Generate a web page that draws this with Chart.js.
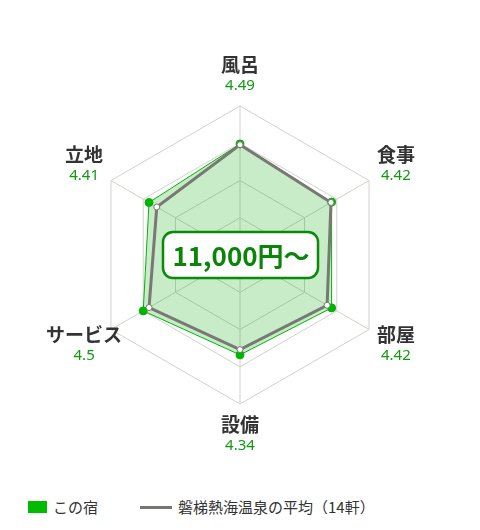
<!DOCTYPE html>
<html lang="ja">
<head>
<meta charset="utf-8">
<script src="https://cdn.jsdelivr.net/npm/chart.js@4.4.1/dist/chart.umd.min.js"></script>
<style>
  body { margin: 0; background: #fff; font-family: "Noto Sans CJK JP", sans-serif; }
  #wrap { position: relative; width: 480px; height: 530px; }
  #chartBox { position: absolute; left: 0; top: 0; width: 480px; height: 480px; }
  .lg { position: absolute; font-size: 15px; line-height: 20px; color: #333; white-space: nowrap; }
  .sw { position: absolute; }
</style>
</head>
<body>
<div id="wrap">
  <div id="chartBox"><canvas id="radar"></canvas></div>
  <div class="sw" style="left:28px;top:501px;width:19px;height:12px;background:#00bb00"></div>
  <div class="lg" style="left:53px;top:497px">この宿</div>
  <div class="sw" style="left:140px;top:506px;width:32px;height:3px;background:#777770"></div>
  <div class="lg" style="left:178px;top:497px">磐梯熱海温泉の平均（14軒）</div>
</div>
<script>
// categories clockwise from the top
const categories = ['風呂', '食事', '部屋', '設備', 'サービス', '立地']
const hotelScores = [4.49, 4.42, 4.42, 4.34, 4.5, 4.41]
const areaAverage = [4.48, 4.41, 4.35, 4.27, 4.41, 4.29]
const priceLabel = '11,000円～'

const GREEN = '#00b400'
const GRID = '#d2d2ca'

const radarLabels = {
    id: 'radarLabels',
    afterDatasetsDraw(chart) {
        const { ctx } = chart
        const scale = chart.scales.r
        ctx.save()
        ctx.textAlign = 'center'
        ctx.textBaseline = 'middle'
        categories.forEach((name, i) => {
            const p = scale.getPointPosition(i, scale.drawingArea + 31)
            ctx.fillStyle = '#333'
            ctx.font = 'bold 19px "Noto Sans CJK JP", sans-serif'
            ctx.fillText(name, p.x, p.y - 10)
            ctx.fillStyle = '#119911'
            ctx.font = '15px "Noto Sans", "Noto Sans CJK JP", sans-serif'
            ctx.fillText(`${hotelScores[i]}`, p.x, p.y + 11)
        })

        // price badge in the middle
        const cx = scale.xCenter, cy = scale.yCenter
        ctx.beginPath()
        ctx.roundRect(cx - 77, cy - 23, 155, 46, 10)
        ctx.fillStyle = '#fff'
        ctx.fill()
        ctx.lineWidth = 2.5
        ctx.strokeStyle = '#0a8a0a'
        ctx.stroke()
        ctx.fillStyle = '#0a850a'
        ctx.font = 'bold 26px "Noto Sans CJK JP", sans-serif'
        ctx.fillText(priceLabel, cx + 1, cy + 1)
        ctx.restore()
    }
}

new Chart(document.getElementById('radar'), {
    type: 'radar',
    data: {
        labels: categories,
        datasets: [{
            label: 'この宿',
            data: hotelScores,
            order: 2,
            backgroundColor: 'rgba(0,170,0,0.22)',
            borderColor: GREEN,
            borderWidth: 1,
            fill: true,
            pointRadius: 4,
            pointBackgroundColor: GREEN,
            pointBorderColor: GREEN,
            pointBorderWidth: 1
        }, {
            label: '磐梯熱海温泉の平均（14軒）',
            data: areaAverage,
            order: 1,
            fill: false,
            borderColor: '#787874',
            borderWidth: 3,
            pointRadius: 3,
            pointBackgroundColor: '#fff',
            pointBorderColor: '#787874',
            pointBorderWidth: 1
        }]
    },
    options: {
        responsive: true,
        maintainAspectRatio: false,
        animation: false,
        layout: { padding: { left: 91, right: 91, top: 106, bottom: 76 } },
        plugins: { legend: { display: false }, tooltip: { enabled: false } },
        scales: {
            r: {
                min: 3,
                max: 5,
                ticks: { stepSize: 0.5, display: false },
                pointLabels: { display: false },
                grid: { color: GRID, lineWidth: 1 },
                angleLines: { color: GRID, lineWidth: 1 }
            }
        }
    },
    plugins: [radarLabels]
})
</script>
</body>
</html>
